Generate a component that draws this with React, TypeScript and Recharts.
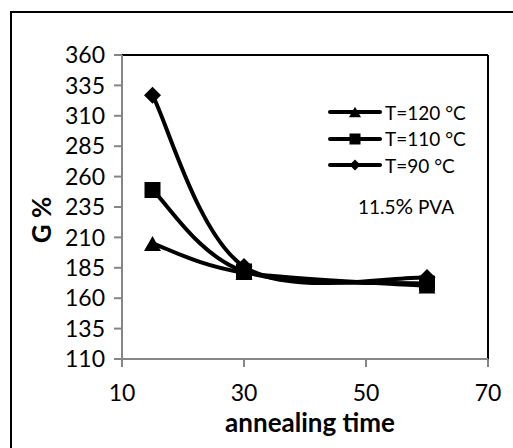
import React from 'react';
import {
  LineChart,
  Line,
  XAxis,
  YAxis,
  Legend,
  ReferenceLine
} from 'recharts';

const times = [15, 30, 60];
const g120 = [205, 181, 170];
const g110 = [249, 182, 172];
const g90 = [327, 186, 177];
const seriesNames = ['T=120 °C', 'T=110 °C', 'T=90 °C'];
const yTicks = [110, 135, 160, 185, 210, 235, 260, 285, 310, 335, 360];
const xTicks = [10, 30, 50, 70];

const data = times.map((t, i) => ({ time: t, t120: g120[i], t110: g110[i], t90: g90[i] }));

const FONT = 'Lato, "Open Sans", sans-serif';
const AXIS_GRAY = '#868686';

// Excel-like smoothed line (bezier through points, 1/6 tangents)
const excelSmooth = (context: any) => {
  let pts: number[][] = [];
  return {
    areaStart() {},
    areaEnd() {},
    lineStart() {
      pts = [];
    },
    point(x: number, y: number) {
      pts.push([+x, +y]);
    },
    lineEnd() {
      if (!pts.length) return;
      context.moveTo(pts[0][0], pts[0][1]);
      for (let i = 0; i < pts.length - 1; i++) {
        const p0 = pts[Math.max(i - 1, 0)];
        const p1 = pts[i];
        const p2 = pts[i + 1];
        const p3 = pts[Math.min(i + 2, pts.length - 1)];
        context.bezierCurveTo(
          p1[0] + (p2[0] - p0[0]) / 6,
          p1[1] + (p2[1] - p0[1]) / 6,
          p2[0] - (p3[0] - p1[0]) / 6,
          p2[1] - (p3[1] - p1[1]) / 6,
          p2[0],
          p2[1]
        );
      }
    },
  };
};

type Shape = 'triangle' | 'square' | 'diamond';

const markerPath = (shape: Shape, cx: number, cy: number, r: number) => {
  if (shape === 'square') return `M${cx - r},${cy - r}h${2 * r}v${2 * r}h${-2 * r}Z`;
  if (shape === 'diamond') return `M${cx},${cy - r}L${cx + r},${cy}L${cx},${cy + r}L${cx - r},${cy}Z`;
  const h = r * 1.75;
  return `M${cx},${cy - h / 2}L${cx + r},${cy + h / 2}L${cx - r},${cy + h / 2}Z`;
};

const shapes: Record<string, Shape> = { t120: 'triangle', t110: 'square', t90: 'diamond' };
const sizes: Record<Shape, number> = { triangle: 8.5, square: 8, diamond: 8.5 };

const makeDot = (shape: Shape) => (props: any) => {
  const { cx, cy, index } = props;
  if (cx == null || cy == null) return <g key={index} />;
  return <path key={index} d={markerPath(shape, cx, cy, sizes[shape])} fill="#000" />;
};

const LegendBox = ({ payload }: any) => {
  const items = [...(payload || [])].sort(
    (a: any, b: any) => seriesNames.indexOf(a.value) - seriesNames.indexOf(b.value)
  );
  return (
    <div style={{ fontFamily: FONT, fontSize: 19, color: '#000' }}>
      {items.map((entry: any) => {
        const shape = shapes[entry.dataKey as string];
        return (
          <div key={entry.value} style={{ height: 26.5, display: 'flex', alignItems: 'center' }}>
            <svg width={54} height={20} style={{ marginRight: 3 }}>
              <line x1={2} y1={10} x2={52} y2={10} stroke="#000" strokeWidth={4} strokeLinecap="round" />
              <path d={markerPath(shape, 27, 10, shape === 'triangle' ? 6 : 5.5)} fill="#000" />
            </svg>
            <span>{entry.value}</span>
          </div>
        );
      })}
    </div>
  );
};

const App: React.FC = () => {
  return (
    <div style={{ position: 'absolute', left: 0, top: 0, width: 513, height: 448, background: '#fff' }}>
      <div
        style={{
          position: 'absolute',
          left: 10,
          top: 11,
          width: 503,
          height: 437,
          borderLeft: '2px solid #000',
          borderTop: '2px solid #000',
        }}
      />
      <LineChart
        width={513}
        height={448}
        data={data}
        margin={{ top: 55, right: 25, bottom: 0, left: 0 }}
        style={{ fontFamily: FONT }}
      >
        <XAxis
          dataKey="time"
          type="number"
          domain={[10, 70]}
          ticks={xTicks}
          height={89}
          tickSize={8}
          tickMargin={18}
          axisLine={{ stroke: AXIS_GRAY, strokeWidth: 2 }}
          tickLine={{ stroke: AXIS_GRAY, strokeWidth: 2 }}
          tick={{ fill: '#000', fontSize: 23, fontFamily: FONT }}
        />
        <YAxis
          type="number"
          domain={[110, 360]}
          ticks={yTicks}
          width={122}
          tickSize={8}
          tickMargin={9}
          interval={0}
          axisLine={{ stroke: AXIS_GRAY, strokeWidth: 2 }}
          tickLine={{ stroke: AXIS_GRAY, strokeWidth: 2 }}
          tick={{ fill: '#000', fontSize: 23, fontFamily: FONT }}
        />
        <ReferenceLine y={360} stroke="#000" strokeWidth={2} />
        <ReferenceLine x={70} stroke="#000" strokeWidth={2} />
        <Line
          dataKey="t120"
          name={seriesNames[0]}
          type={excelSmooth as any}
          stroke="#000"
          strokeWidth={4}
          dot={makeDot('triangle')}
          activeDot={false}
          isAnimationActive={false}
        />
        <Line
          dataKey="t110"
          name={seriesNames[1]}
          type={excelSmooth as any}
          stroke="#000"
          strokeWidth={4}
          dot={makeDot('square')}
          activeDot={false}
          isAnimationActive={false}
        />
        <Line
          dataKey="t90"
          name={seriesNames[2]}
          type={excelSmooth as any}
          stroke="#000"
          strokeWidth={4}
          dot={makeDot('diamond')}
          activeDot={false}
          isAnimationActive={false}
        />
        <Legend
          layout="vertical"
          verticalAlign="middle"
          align="center"
          content={<LegendBox />}
          wrapperStyle={{ position: 'absolute', left: 328, top: 99, width: 160 }}
        />
        <text x={406} y={214} textAnchor="middle" fontSize={19} fontFamily={FONT} fill="#000">
          11.5<tspan fontSize={22}>%</tspan> PVA
        </text>
        <text
          x={41}
          y={220}
          transform="rotate(-90 41 220)"
          textAnchor="middle"
          dominantBaseline="central"
          fontSize={26}
          fontWeight="bold"
          fontFamily={FONT}
          fill="#000"
        >
          G %
        </text>
        <text x={310} y={432} textAnchor="middle" fontSize={26} fontWeight="bold" fontFamily={FONT} fill="#000">
          annealing time
        </text>
      </LineChart>
    </div>
  );
};

export default App;
